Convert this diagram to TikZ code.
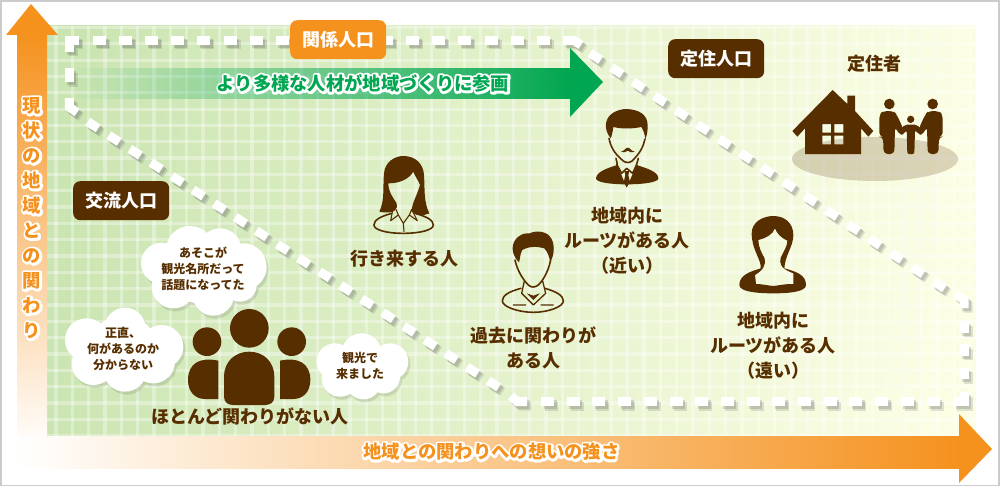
\documentclass[tikz,border=0pt]{standalone}
\usepackage{fontspec}
\setmainfont{Noto Sans CJK JP}
\usetikzlibrary{fadings}
\definecolor{brownc}{RGB}{87,46,0}
\definecolor{orangec}{RGB}{245,146,30}
\definecolor{greenc}{RGB}{0,166,81}
\definecolor{gridl}{RGB}{203,229,178}
\definecolor{gridr}{RGB}{252,254,228}
\newcommand\hl[2][4.6]{\leavevmode\rlap{\special{pdf:code q 1 J 1 j #1 w 1 1 1 RG 1 1 1 rg 2 Tr}#2\special{pdf:code Q}}#2}
\tikzset{
  badge/.style={rounded corners=7pt,text=white,font=\bfseries\fontsize{18}{20}\selectfont,minimum width=96pt,minimum height=39pt,inner sep=0pt},
  lbl/.style={text=brownc,align=center,inner sep=0pt,font=\bfseries\fontsize{18}{25}\selectfont},
  small/.style={text=brownc,align=center,inner sep=0pt,font=\bfseries\fontsize{12}{16}\selectfont},
  halotxt/.style={inner sep=0pt,align=center,font=\bfseries\fontsize{18.3}{25}\selectfont},
  wdash/.style={line width=9pt,dash pattern=on 13pt off 13.1pt},
  wsolid/.style={line width=9pt,miter limit=4},
  figline/.style={draw=brownc,line width=1.6pt,line join=round,line cap=round},
  zoomsc/.style={shift={#1},scale=1/3}
}
\newcommand\dashpieces[1]{%
 \draw[wsolid,#1] (79,40.5)--(69.3,40.5)--(69.3,52);
 \draw[wsolid,#1] (69.3,68)--(69.3,82);
 \draw[wsolid,#1] (69.3,98)--(69.3,107)--(77,112.5);
 \draw[wdash,#1] (93,40.5)--(556,40.5);
 \draw[wsolid,#1] (563,40.5)--(574,40.5)--(581,45);
 \draw[wdash,#1,dash pattern=on 12.8pt off 13pt] (590,53)--(950,292);
 \draw[wsolid,#1] (956,294)--(964,300)--(964,308);
 \draw[wdash,#1,dash pattern=on 11.5pt off 11.8pt] (964,321)--(964,380);
 \draw[wsolid,#1] (964,392)--(964,401.5)--(953,401.5);
 \draw[wdash,#1,dash pattern=on 13pt off 12.7pt] (541,401.5)--(948,401.5);
 \draw[wsolid,#1] (527,401.5)--(517,401.5)--(511,396);
 \draw[wdash,#1,dash pattern=on 12.5pt off 12.6pt] (87.7,121.6)--(505,391.5);
}
\newcommand\cloudA{(450,90) circle (72) (540,90) circle (65) (365,130) circle (62) (610,140) circle (70) (400,200) circle (65) (520,225) circle (62) (600,195) circle (50) (480,150) circle (100)}
\newcommand\cloudB{(255,325) circle (62) (140,360) circle (65) (365,380) circle (65) (160,430) circle (65) (255,450) circle (65) (340,425) circle (65) (250,385) circle (100)}
\newcommand\cloudC{(965,400) circle (60) (885,425) circle (55) (1050,425) circle (55) (900,475) circle (55) (970,485) circle (53) (1030,470) circle (50) (965,440) circle (70)}
\begin{document}
\begin{tikzpicture}[x=1pt,y=-1pt]
\useasboundingbox (0,0) rectangle (1000,487);
\fill[white] (0,0) rectangle (1000,487);
\draw[line width=1.6pt,black!20] (0.8,0.8) rectangle (999,485.6);
% grid background
\shade[left color=gridl,right color=gridr,shading angle=84] (47,26) rectangle (976,436);
\begin{scope}
 \clip (47,26) rectangle (976,436);
 \foreach \k in {0,...,56} {\draw[white,opacity=.34,line width=3.3pt] ({56+16.33*\k},26)--({56+16.33*\k},436);}
 \foreach \k in {0,...,25} {\draw[white,opacity=.34,line width=3.3pt] (47,{27.5+16.33*\k})--(976,{27.5+16.33*\k});}
\end{scope}
% axes
\shade[top color=orangec,bottom color=white] (17,35) rectangle (47,450);
\fill[orangec] (31,4)--(58,35)--(6,35)--cycle;
\shade[left color=white,right color=orangec] (17,436) rectangle (960,468);
\fill[orangec] (959,414)--(992,449)--(959,483)--cycle;
% green arrow
\fill[greenc,path fading=west] (70,68) rectangle (570.5,99);
\fill[greenc] (570,48)--(603,82)--(570,117)--cycle;
% dashes
\begin{scope}[shift={(4,4.5)}]
 \dashpieces{black!70,opacity=.16}
\end{scope}
\begin{scope}[shift={(2.5,3)}]
 \dashpieces{black!70,opacity=.2}
\end{scope}
\dashpieces{white}
% badges
\node[badge,fill=orangec,anchor=north west] (kankei) at (290,20) {関係人口};
\node[badge,fill=brownc,anchor=north west] (teiju) at (668,39) {定住人口};
\node[badge,fill=brownc,anchor=north west] (koryu) at (73,181) {交流人口};
% axis and arrow labels
\node[halotxt,text=greenc] (tagreen) at (363,83.5) {\hl{より多様な人材が地域づくりに参画}};
\node[halotxt,text=orangec] (tax) at (491.5,452) {\hl{地域との関わりへの想いの強さ}};
\node[halotxt,text=orangec,anchor=north] (tay) at (32,97.5) {\hl{現}\\\hl{状}\\\hl{の}\\\hl{地}\\\hl{域}\\\hl{と}\\\hl{の}\\\hl{関}\\\hl{わ}\\\hl{り}};
% family
\fill[brownc,opacity=.2] (875,159) ellipse (83 and 22);
\begin{scope}[zoomsc={(785,85)}]
 \fill[brownc,even odd rule] (143,15)--(187,57)--(187,32)--(210,32)--(210,78)--(265,138)--(250,155)--(228,130)--(228,207)--(60,207)--(60,130)--(37,155)--(22,138)--cycle
   (112,117) rectangle (138,143) (148,117) rectangle (175,143) (112,152) rectangle (138,178) (148,152) rectangle (175,178);
 \fill[brownc] (313,57) circle (16) (443,57) circle (16) (377,103) circle (11);
 \fill[brownc,rounded corners=4pt] (283,155)--(283,88)--(295,78)--(325,78)--(335,88)--(355,132)--(345,152)--(330,125)--(328,207)--(296,207)--(294,155)--cycle;
 \fill[brownc,rounded corners=4pt] (473,155)--(473,88)--(461,78)--(431,78)--(421,88)--(401,132)--(411,152)--(426,125)--(428,207)--(460,207)--(462,155)--cycle;
 \fill[brownc,rounded corners=2pt] (340,138)--(360,119)--(395,119)--(416,138)--(408,152)--(390,136)--(388,207)--(367,207)--(365,136)--(349,152)--cycle;
\end{scope}
% man with moustache
\begin{scope}[zoomsc={(590,105)}]
 \fill[brownc] (62,100) .. controls (50,85) and (46,70) .. (48,55) .. controls (52,25) and (85,12) .. (110,12) .. controls (150,14) and (172,30) .. (173,60) .. controls (173,75) and (172,90) .. (166,102) .. controls (165,90) and (160,75) .. (154,66) .. controls (125,72) and (95,72) .. (70,66) .. controls (68,80) and (66,92) .. (62,100) -- cycle;
 \draw[figline] (57,100) .. controls (62,125) and (72,145) .. (100,168) .. controls (108,174) and (118,174) .. (126,168) .. controls (150,145) and (160,125) .. (165,102);
 \fill[brownc] (93,140) .. controls (105,138) and (108,125) .. (113,129) .. controls (118,125) and (122,138) .. (134,140) .. controls (122,144) and (118,140) .. (113,137) .. controls (108,140) and (103,144) .. (93,140) -- cycle;
 \fill[brownc] (18,220) .. controls (20,200) and (50,190) .. (82,180) -- (110,248) -- (140,180) .. controls (170,190) and (205,200) .. (205,220) .. controls (205,232) and (160,238) .. (110,238) .. controls (60,238) and (18,232) .. (18,220) -- cycle;
 \draw[figline] (80,178)--(95,205)--(110,190)--(128,205)--(140,178) (82,178)--(78,160) (140,178)--(145,160);
 \fill[brownc] (103,198)--(118,198)--(115,210)--(120,232)--(110,246)--(101,232)--(106,210)--cycle;
\end{scope}
% woman, left
\begin{scope}[zoomsc={(370,150)}]
 \fill[brownc] (28,185) .. controls (45,150) and (38,110) .. (42,70) .. controls (45,35) and (75,18) .. (100,18) .. controls (135,18) and (160,40) .. (162,75) .. controls (165,115) and (160,155) .. (178,190) .. controls (160,198) and (140,198) .. (125,185) .. controls (125,160) and (140,140) .. (150,105) .. controls (145,90) and (135,80) .. (130,65) .. controls (115,90) and (85,100) .. (55,100) .. controls (55,125) and (70,145) .. (80,160) .. controls (85,175) and (75,195) .. (28,185) -- cycle;
 \draw[figline] (65,190) .. controls (30,200) and (12,210) .. (12,225) .. controls (12,240) and (50,250) .. (100,250) .. controls (150,250) and (190,240) .. (190,225) .. controls (190,210) and (170,200) .. (135,190);
 \draw[figline,line width=1.1pt] (68,180)--(62,212)--(85,195)--(78,178) (125,178)--(142,212)--(118,195)--(125,178) (85,195)--(100,220)--(118,195) (100,220)--(102,245);
\end{scope}
% man, middle
\begin{scope}[zoomsc={(495,225)}]
 \fill[brownc] (72,112) .. controls (55,95) and (50,75) .. (54,60) .. controls (60,35) and (85,22) .. (105,25) .. controls (115,18) and (150,15) .. (165,35) .. controls (178,50) and (182,85) .. (165,112) .. controls (165,100) and (158,80) .. (148,70) .. controls (130,65) and (105,62) .. (82,75) .. controls (75,85) and (76,100) .. (72,112) -- cycle;
 \draw[figline] (60,105) .. controls (65,130) and (80,160) .. (100,180) .. controls (108,188) and (120,188) .. (130,180) .. controls (150,160) and (162,130) .. (167,105);
 \draw[figline] (78,190) .. controls (40,200) and (22,212) .. (22,228) .. controls (22,245) and (70,262) .. (115,262) .. controls (160,262) and (205,245) .. (205,228) .. controls (205,212) and (185,200) .. (150,190);
 \draw[figline,line width=1.3pt] (88,168)--(80,205)--(115,240)--(152,205)--(143,168) (55,240)--(92,240) (138,240)--(175,240);
 \fill[brownc] (95,205)--(115,225)--(135,205)--(115,212)--cycle;
\end{scope}
% woman, right
\begin{scope}[zoomsc={(730,210)}]
 \fill[brownc,even odd rule] (65,70) .. controls (65,35) and (100,18) .. (130,18) .. controls (165,18) and (190,40) .. (190,75) .. controls (190,110) and (165,135) .. (163,175) .. controls (200,185) and (228,195) .. (228,225) .. controls (228,245) and (180,250) .. (130,250) .. controls (80,250) and (28,245) .. (28,225) .. controls (28,195) and (60,185) .. (92,175) .. controls (95,150) and (65,120) .. (65,70) -- cycle
 (85,90) .. controls (105,85) and (128,75) .. (135,55) .. controls (140,70) and (155,85) .. (172,92) .. controls (172,110) and (160,125) .. (152,143) .. controls (148,160) and (150,175) .. (190,190) -- (190,222) .. controls (160,222) and (150,226) .. (130,228) .. controls (110,226) and (95,222) .. (78,222) -- (75,195) .. controls (100,180) and (108,165) .. (104,145) .. controls (95,130) and (85,110) .. (85,90) -- cycle;
\end{scope}
% crowd
\begin{scope}[zoomsc={(40,220)}]
 \fill[brownc] (628,325) circle (58) (501,365) circle (43) (755,365) circle (43);
 \fill[brownc] (552,470) .. controls (552,425) and (585,395) .. (628,395) .. controls (670,395) and (703,425) .. (703,470) -- (703,530) .. controls (703,548) and (690,555) .. (675,555) -- (580,555) .. controls (565,555) and (552,548) .. (552,530) -- cycle;
 \fill[brownc] (535,422) .. controls (480,410) and (444,430) .. (444,480) .. controls (444,515) and (465,537) .. (495,537) -- (535,537) -- cycle;
 \fill[brownc] (720,422) .. controls (775,410) and (811,430) .. (811,480) .. controls (811,515) and (790,537) .. (760,537) -- (720,537) -- cycle;
 \fill[black,opacity=.1] [shift={(6,9)}] \cloudA;
 \fill[black,opacity=.1] [shift={(6,9)}] \cloudB;
 \fill[black,opacity=.1] [shift={(6,9)}] \cloudC;
 \fill[white] \cloudA;
 \fill[white] \cloudB;
 \fill[white] \cloudC;
\end{scope}
% labels
\node[lbl] (tteiju) at (874.5,64) {定住者};
\node[lbl] (tiki) at (404,259) {行き来する人};
\node[lbl] (tchika) at (627,241) {地域内に\\ルーツがある人\\（近い）};
\node[lbl] (tkako) at (533,347.5) {過去に関わりが\\ある人};
\node[lbl] (ttooi) at (773,346) {地域内に\\ルーツがある人\\（遠い）};
\node[lbl] (tnone) at (250,416) {ほとんど関わりがない人};
\node[small] (c1) at (203,269) {あそこが\\観光名所だって\\話題になってた};
\node[small] (c2) at (123,349) {正直、\\何があるのか\\分からない};
\node[small] (c3) at (360,366) {観光で\\来ました};
\end{tikzpicture}
\end{document}
